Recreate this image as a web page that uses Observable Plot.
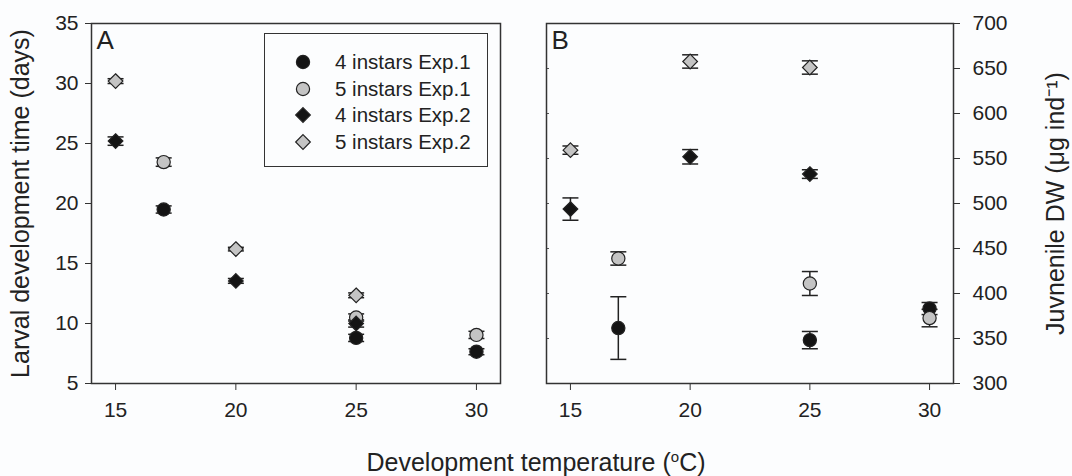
<!DOCTYPE html>
<html>
<head>
<meta charset="utf-8">
<script src="https://cdn.jsdelivr.net/npm/d3@7"></script>
<script src="https://cdn.jsdelivr.net/npm/@observablehq/plot@0.6"></script>
<style>
  html, body { margin: 0; padding: 0; background: #fcfdfe; }
  #chart { position: relative; width: 1072px; height: 476px; overflow: hidden;
           font-family: "Liberation Sans", Arial, sans-serif; color: #222; }
  #chart > svg { position: absolute; top: 0; overflow: visible; }
  #legend { position: absolute; left: 264px; top: 33px; width: 224px; height: 134px;
            box-sizing: border-box; border: 1.3px solid #333; background: #fcfdfe; }
  .lrow { position: absolute; left: 0; height: 24px; font-size: 20.5px; line-height: 24px; white-space: nowrap; }
  .lrow svg { position: absolute; left: 28px; top: 2px; }
  .lrow span { position: absolute; left: 70px; top: 0; }
  #xtitle { position: absolute; left: 0; width: 1072px; top: 448px; text-align: center;
            font-size: 25px; line-height: normal; }
  #xtitle sup { font-size: 15px; vertical-align: 9px; line-height: 0; }
</style>
</head>
<body>
<div id="chart"></div>
<script>
// ---------- data ----------
const seriesNames = ["4 instars Exp.1", "5 instars Exp.1", "4 instars Exp.2", "5 instars Exp.2"];
const seriesFills = ["#141414", "#c4c4c4", "#141414", "#c4c4c4"];
const seriesSymbols = ["circle", "circle", "diamond2", "diamond2"];

const tempsExp1 = [17, 25, 30];
const tempsExp2 = [15, 20, 25];

const xTicks = [15, 20, 25, 30];
const larvalTicks = [5, 10, 15, 20, 25, 30, 35];
const dwTicks = [300, 350, 400, 450, 500, 550, 600, 650, 700];

// Panel A: larval development time (days), mean and error
const larval4Exp1 = [19.5, 8.8, 7.65];
const larval4Exp1Err = [0.3, 0.3, 0.25];
const larval5Exp1 = [23.45, 10.5, 9.05];
const larval5Exp1Err = [0.35, 0.3, 0.3];
const larval4Exp2 = [25.2, 13.55, 10.0];
const larval4Exp2Err = [0.35, 0.2, 0.3];
const larval5Exp2 = [30.2, 16.2, 12.35];
const larval5Exp2Err = [0.2, 0.15, 0.2];

// Panel B: juvenile dry weight (µg ind-1), mean and error
const dw4Exp1 = [361.6, 348.2, 383.3];
const dw4Exp1Err = [34.8, 9.6, 6.7];
const dw5Exp1 = [438.9, 411.1, 372.7];
const dw5Exp1Err = [7.4, 13.3, 9.7];
const dw4Exp2 = [493.8, 551.9, 532.7];
const dw4Exp2Err = [12.4, 8.0, 4.8];
const dw5Exp2 = [559.3, 657.8, 651.1];
const dw5Exp2Err = [4.6, 7.4, 7.4];

// ---------- build tables ----------
function rows(temps, vals, errs, s) {
  return temps.map((t, i) => ({temp: t, value: vals[i], err: errs[i], series: s}));
}
const larvalRows = [
  ...rows(tempsExp1, larval4Exp1, larval4Exp1Err, seriesNames[0]),
  ...rows(tempsExp1, larval5Exp1, larval5Exp1Err, seriesNames[1]),
  ...rows(tempsExp2, larval4Exp2, larval4Exp2Err, seriesNames[2]),
  ...rows(tempsExp2, larval5Exp2, larval5Exp2Err, seriesNames[3])
];
const dwRows = [
  ...rows(tempsExp1, dw4Exp1, dw4Exp1Err, seriesNames[0]),
  ...rows(tempsExp1, dw5Exp1, dw5Exp1Err, seriesNames[1]),
  ...rows(tempsExp2, dw4Exp2, dw4Exp2Err, seriesNames[2]),
  ...rows(tempsExp2, dw5Exp2, dw5Exp2Err, seriesNames[3])
];

const capSymbol = {
  draw(ctx, size) { const w = Math.sqrt(size / Math.PI); ctx.moveTo(-w, 0); ctx.lineTo(w, 0); }
};

function dataMarks(data) {
  const caps = data.flatMap(d => [{temp: d.temp, y: d.value - d.err}, {temp: d.temp, y: d.value + d.err}]);
  return [
    Plot.ruleX(data, {x: "temp", y1: d => d.value - d.err, y2: d => d.value + d.err, stroke: "#222", strokeWidth: 1.5}),
    Plot.dot(caps, {x: "temp", y: "y", symbol: capSymbol, r: 8, fill: "none", stroke: "#222", strokeWidth: 1.5}),
    Plot.dot(data, {x: "temp", y: "value", symbol: "series", fill: "series", stroke: "#222", strokeWidth: 1.2, r: 6.6})
  ];
}

const common = {
  height: 410,
  marginTop: 23,
  marginBottom: 27,
  style: {fontFamily: "'Liberation Sans', Arial, sans-serif", fontSize: "21px", color: "#222", background: "transparent"},
  x: {domain: [14, 31]},
  color: {domain: seriesNames, range: seriesFills},
  symbol: {domain: seriesNames, range: seriesSymbols}
};

const plotA = Plot.plot({
  ...common,
  width: 530,
  marginLeft: 91,
  marginRight: 30,
  y: {domain: [5, 35]},
  marks: [
    Plot.axisX({ticks: xTicks, tickSize: 7, tickPadding: 12, label: null, stroke: "#333"}),
    Plot.axisY({ticks: larvalTicks, tickSize: 6, tickPadding: 7, label: null, stroke: "#333"}),
    ...dataMarks(larvalRows),
    Plot.frame({stroke: "#333", strokeWidth: 1.5}),
    Plot.text(["A"], {frameAnchor: "top-left", dx: 5, dy: 7, lineAnchor: "top", fontSize: 26}),
    Plot.text(["Larval development time (days)"], {frameAnchor: "left", textAnchor: "middle", rotate: -90, dx: -80, lineAnchor: "top", fontSize: 25})
  ]
});

const plotB = Plot.plot({
  ...common,
  width: 542,
  marginLeft: 16,
  marginRight: 119,
  y: {domain: [300, 700]},
  marks: [
    Plot.axisX({ticks: xTicks, tickSize: 7, tickPadding: 12, label: null, stroke: "#333"}),
    Plot.axisY({anchor: "right", ticks: dwTicks, tickSize: 6, tickPadding: 13, label: null, stroke: "#333"}),
    Plot.axisY({anchor: "left", ticks: dwTicks, tickSize: 3, dx: 3, tickFormat: () => "", label: null, stroke: "#555"}),
    ...dataMarks(dwRows),
    Plot.frame({stroke: "#333", strokeWidth: 1.5}),
    Plot.text(["B"], {frameAnchor: "top-left", dx: 5, dy: 7, lineAnchor: "top", fontSize: 26}),
    Plot.text(["Juvnenile DW (μg ind⁻¹)"], {frameAnchor: "right", textAnchor: "middle", rotate: -90, dx: 110, lineAnchor: "bottom", fontSize: 25})
  ]
});

const chart = document.getElementById("chart");
plotA.style.left = "0px";
plotB.style.left = "530px";
chart.appendChild(plotA);
chart.appendChild(plotB);

// legend
const legend = document.createElement("div");
legend.id = "legend";
seriesNames.forEach((name, i) => {
  const row = document.createElement("div");
  row.className = "lrow";
  row.style.top = (16 + i * 26.6) + "px";
  const sym = seriesSymbols[i] === "circle" ? d3.symbolCircle : d3.symbolDiamond2;
  const size = Math.PI * 6.6 * 6.6;
  row.innerHTML =
    `<svg width="20" height="20" viewBox="-10 -10 20 20"><path d="${d3.symbol(sym, size)()}" fill="${seriesFills[i]}" stroke="#222" stroke-width="1.2"/></svg>` +
    `<span>${name}</span>`;
  legend.appendChild(row);
});
chart.appendChild(legend);

const xt = document.createElement("div");
xt.id = "xtitle";
xt.innerHTML = "Development temperature (<sup>o</sup>C)";
chart.appendChild(xt);
</script>
</body>
</html>
